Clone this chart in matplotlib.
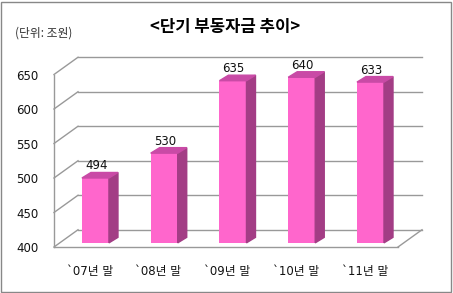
import numpy as np
import matplotlib
matplotlib.use('Agg')
from matplotlib import pyplot as plt
from matplotlib.patches import Polygon, Rectangle

plt.rcParams['font.family'] = ['Noto Sans CJK KR', 'DejaVu Sans']

# 데이터
years = ['`07년 말', '`08년 말', '`09년 말', '`10년 말', '`11년 말']
values = [494, 530, 635, 640, 633]
yticks = [400, 450, 500, 550, 600, 650]

# 3D 느낌 파라미터
DX, DY = 0.349, 25      # 뒷벽 깊이
F = 0.24                # 막대가 놓인 깊이 비율
W = 0.393               # 막대 폭
BDX, BDY = 0.131, 8     # 막대 옆면 깊이
XL, XR = -0.519, 4.484  # 바닥 앞쪽 좌우 끝
GRID = '#999999'

fig = plt.figure(figsize=(4.53, 2.93), dpi=100)
fig.patches.append(Rectangle((0.003, 0.004), 0.993, 0.99, transform=fig.transFigure,
                             fill=False, edgecolor='#888888', lw=1))

ax = fig.add_axes([54 / 453, 46 / 293, 368 / 453, 189.75 / 293])
ax.set_xlim(XL, XR + DX)
ax.set_ylim(400, 650 + DY)
for s in ax.spines.values():
    s.set_visible(False)

# 뒷벽 눈금선, 왼쪽 벽 사선
for v in yticks:
    ax.plot([XL + DX, XR + DX], [v + DY, v + DY], color=GRID, lw=1, clip_on=False)
    ax.plot([XL, XL + DX], [v, v + DY], color=GRID, lw=1, clip_on=False)
ax.plot([XL, XL], [400, 650], color=GRID, lw=1, clip_on=False)
# 바닥
ax.plot([XL, XR], [400, 400], color=GRID, lw=1, clip_on=False)
ax.plot([XR, XR + DX], [400, 400 + DY], color=GRID, lw=1, clip_on=False)

x = np.arange(len(values))
xc = x + F * DX
base = 400 + F * DY
vals = np.array(values)
ax.bar(xc, vals - 400, bottom=base, width=W, color='#FF66CC', zorder=3)
for cx, v in zip(xc, vals):
    top = v + F * DY
    l, r = cx - W / 2, cx + W / 2
    ax.add_patch(Polygon([(r, base), (r + BDX, base + BDY), (r + BDX, top + BDY), (r, top)],
                         closed=True, color='#A33D85', zorder=3))
    ax.add_patch(Polygon([(l, top), (l + BDX, top + BDY), (r + BDX, top + BDY), (r, top)],
                         closed=True, color='#C94AA6', zorder=3))
    ax.text(cx + 0.01, top + BDY, str(v), ha='center', va='bottom', fontsize=8.5,
            family=['DejaVu Sans'], color='#111111')

ax.set_yticks(yticks)
ax.set_yticklabels([str(t) for t in yticks], family=['DejaVu Sans'])
ax.set_xticks(x)
ax.set_xticklabels(years, family=['DejaVu Sans', 'Noto Sans CJK KR'])
ax.tick_params(axis='y', length=0, pad=11, labelsize=8.5, colors='#111111')
ax.tick_params(axis='x', length=0, pad=13, labelsize=8.5, colors='#111111')

fig.text(225 / 453, 1 - 27 / 293, '<단기 부동자금 추이>', ha='center', va='center',
         fontsize=12, fontweight='bold')
fig.text(15 / 453, 1 - 33 / 293, '(단위: 조원)', ha='left', va='center',
         fontsize=8.5, color='#333333')

fig.savefig('out.png', dpi=100)
